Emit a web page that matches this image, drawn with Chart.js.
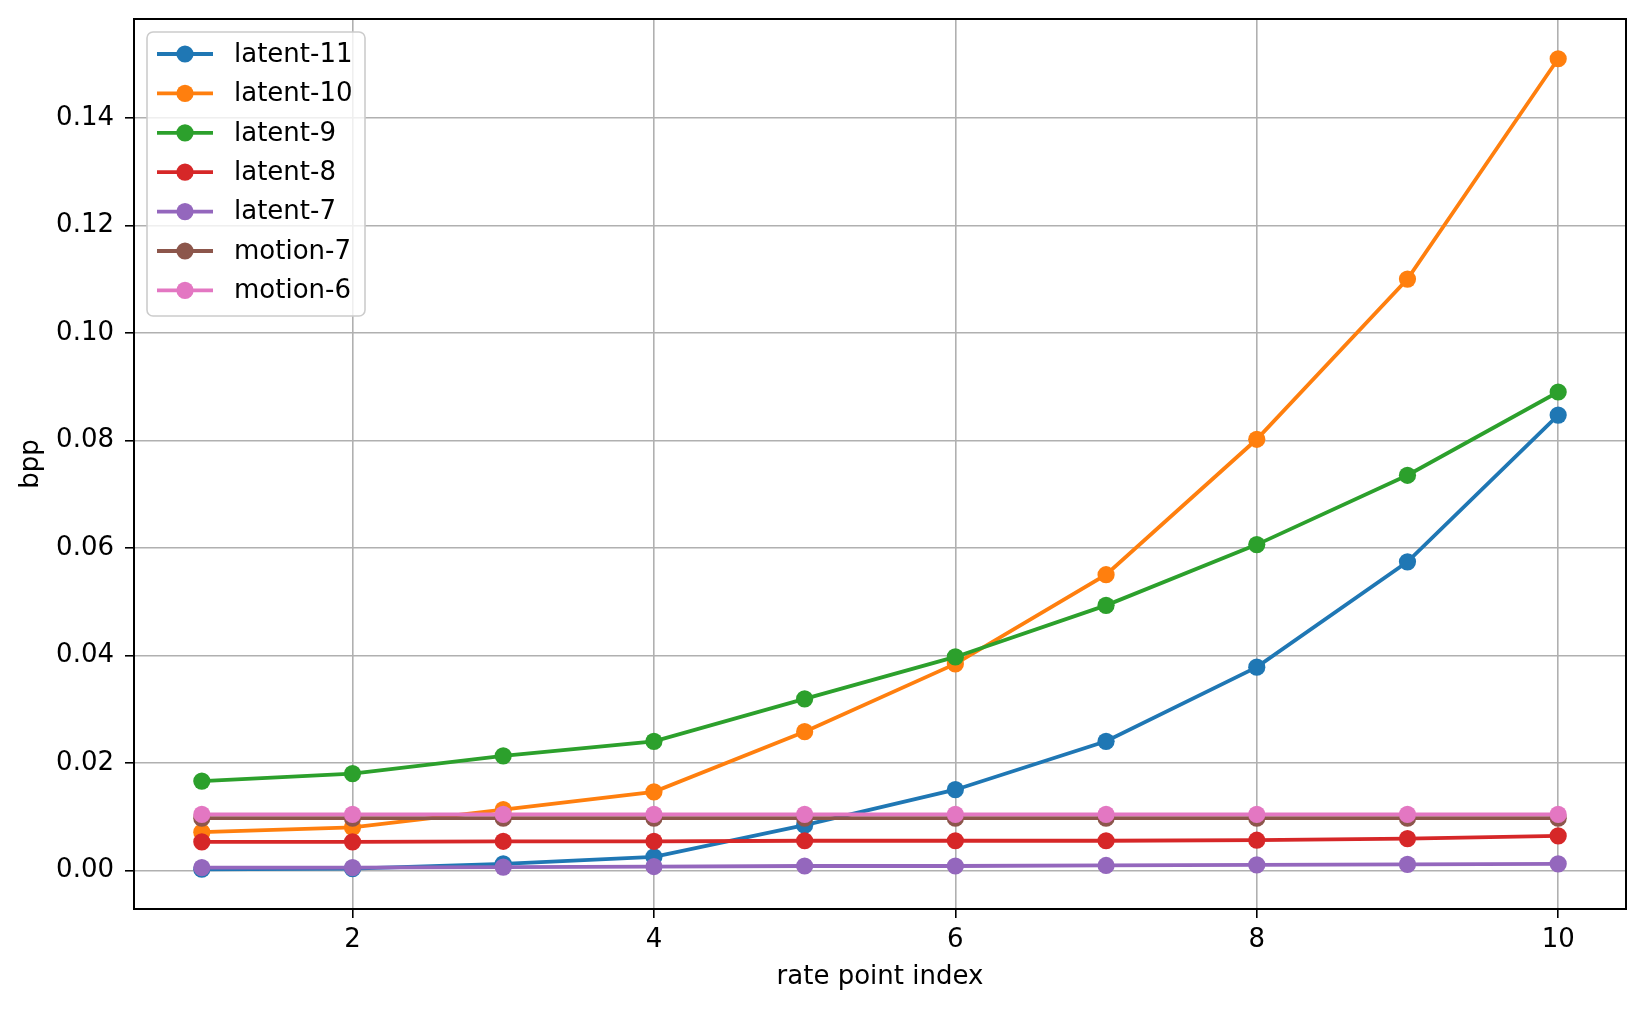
<!DOCTYPE html>
<html>
<head>
<meta charset="utf-8">
<title>bpp per rate point</title>
<script src="https://cdn.jsdelivr.net/npm/chart.js@4.4.1/dist/chart.umd.min.js"></script>
<style>
  html, body { margin: 0; padding: 0; background: #fff; }
  #wrap { width: 1645px; height: 1009px; position: relative; }
</style>
</head>
<body>
<div id="wrap"><canvas id="chart"></canvas></div>
<script>
const rateIndex = [1, 2, 3, 4, 5, 6, 7, 8, 9, 10];

const latent11 = [0.0002, 0.0003, 0.0012, 0.0025, 0.0084, 0.0150, 0.0240, 0.0378, 0.0574, 0.0847];
const latent10 = [0.0071, 0.0080, 0.0113, 0.0146, 0.0258, 0.0384, 0.0550, 0.0802, 0.1100, 0.1510];
const latent9 = [0.0166, 0.0180, 0.0213, 0.0240, 0.0319, 0.0397, 0.0493, 0.0606, 0.0735, 0.0890];
const latent8 = [0.0053, 0.0053, 0.0054, 0.0054, 0.0055, 0.0055, 0.0055, 0.0056, 0.0059, 0.0064];
const latent7 = [0.0005, 0.0005, 0.0006, 0.0007, 0.0008, 0.0008, 0.0009, 0.0010, 0.0011, 0.0012];
const motion7 = [0.0097, 0.0097, 0.0097, 0.0097, 0.0097, 0.0097, 0.0097, 0.0097, 0.0097, 0.0097];
const motion6 = [0.0104, 0.0104, 0.0104, 0.0104, 0.0104, 0.0104, 0.0104, 0.0104, 0.0104, 0.0104];

const seriesLabels = ["latent-11", "latent-10", "latent-9", "latent-8", "latent-7", "motion-7", "motion-6"];
const seriesValues = [latent11, latent10, latent9, latent8, latent7, motion7, motion6];
const seriesColors = ["#1f77b4", "#ff7f0e", "#2ca02c", "#d62728", "#9467bd", "#8c564b", "#e377c2"];

const xTicks = [2, 4, 6, 8, 10];
const yTicks = [0, 0.02, 0.04, 0.06, 0.08, 0.10, 0.12, 0.14];

const FONT = "'DejaVu Sans', 'Liberation Sans', sans-serif";
const FONT_SIZE = 26;
const LINE_WIDTH = 3.8;
const MARKER_RADIUS = 8.6;

const datasets = seriesLabels.map((label, i) => ({
  label,
  data: rateIndex.map((x, j) => ({ x, y: seriesValues[i][j] })),
  borderColor: seriesColors[i],
  backgroundColor: seriesColors[i],
  pointBackgroundColor: seriesColors[i],
  pointBorderWidth: 0,
  pointRadius: MARKER_RADIUS,
  pointHoverRadius: MARKER_RADIUS,
  borderWidth: LINE_WIDTH,
  tension: 0,
  order: seriesLabels.length - 1 - i,
}));

// matplotlib-style frame around the plot area
const framePlugin = {
  id: "frame",
  afterDatasetsDraw(chart) {
    const { ctx, chartArea: a } = chart;
    ctx.save();
    ctx.strokeStyle = "#000";
    ctx.lineWidth = 2;
    ctx.strokeRect(a.left, a.top, a.right - a.left, a.bottom - a.top);
    ctx.restore();
  },
};

// legend in the upper left corner, line + marker handles
const legendPlugin = {
  id: "mplLegend",
  afterDraw(chart) {
    const { ctx, chartArea: a } = chart;
    const left = a.left + 13;
    const top = a.top + 13;
    const width = 218;
    const height = 284;
    const rowStep = 39.4;

    ctx.save();
    ctx.beginPath();
    ctx.roundRect(left, top, width, height, 6);
    ctx.fillStyle = "rgba(255,255,255,0.8)";
    ctx.fill();
    ctx.strokeStyle = "#cccccc";
    ctx.lineWidth = 1.6;
    ctx.stroke();

    ctx.font = `${FONT_SIZE}px ${FONT}`;
    ctx.textBaseline = "middle";
    ctx.textAlign = "left";
    chart.data.datasets.forEach((ds, i) => {
      const y = top + 22 + i * rowStep;
      ctx.strokeStyle = ds.borderColor;
      ctx.lineWidth = LINE_WIDTH;
      ctx.beginPath();
      ctx.moveTo(left + 10, y);
      ctx.lineTo(left + 66, y);
      ctx.stroke();
      ctx.fillStyle = ds.borderColor;
      ctx.beginPath();
      ctx.arc(left + 38, y, MARKER_RADIUS, 0, Math.PI * 2);
      ctx.fill();
      ctx.fillStyle = "#000";
      ctx.fillText(ds.label, left + 87, y + 1);
    });
    ctx.restore();
  },
};

new Chart(document.getElementById("chart"), {
  type: "line",
  data: { datasets },
  options: {
    responsive: true,
    maintainAspectRatio: false,
    animation: false,
    events: [],
    layout: { padding: { top: 19, right: 19, left: 0, bottom: 0 } },
    plugins: {
      legend: { display: false },
      tooltip: { enabled: false },
    },
    scales: {
      x: {
        type: "linear",
        min: 0.55,
        max: 10.45,
        afterBuildTicks: (scale) => {
          scale.ticks = xTicks.map((v) => ({ value: v }));
        },
        afterFit: (scale) => {
          scale.height = 100;
          scale.paddingLeft = 0;
          scale.paddingRight = 0;
        },
        border: { display: false },
        grid: {
          color: "#b0b0b0",
          lineWidth: 1.6,
          tickColor: "#000",
          tickLength: 9,
          tickWidth: 1.6,
        },
        ticks: {
          color: "#000",
          padding: 7,
          maxRotation: 0,
          font: { family: FONT, size: FONT_SIZE },
          callback: (v) => String(v),
        },
        title: {
          display: true,
          text: "rate point index",
          color: "#000",
          font: { family: FONT, size: FONT_SIZE },
          padding: { top: 0, bottom: 16 },
        },
      },
      y: {
        type: "linear",
        min: -0.0072,
        max: 0.1584,
        afterBuildTicks: (scale) => {
          scale.ticks = yTicks.map((v) => ({ value: v }));
        },
        afterFit: (scale) => {
          scale.width = 134;
          scale.paddingTop = 0;
          scale.paddingBottom = 0;
        },
        border: { display: false },
        grid: {
          color: "#b0b0b0",
          lineWidth: 1.6,
          tickColor: "#000",
          tickLength: 9,
          tickWidth: 1.6,
        },
        ticks: {
          color: "#000",
          padding: 11,
          font: { family: FONT, size: FONT_SIZE },
          callback: (v) => v.toFixed(2),
        },
        title: {
          display: true,
          text: "bpp",
          color: "#000",
          font: { family: FONT, size: FONT_SIZE },
          padding: { top: 16, bottom: 0 },
        },
      },
    },
  },
  plugins: [framePlugin, legendPlugin],
});
</script>
</body>
</html>
